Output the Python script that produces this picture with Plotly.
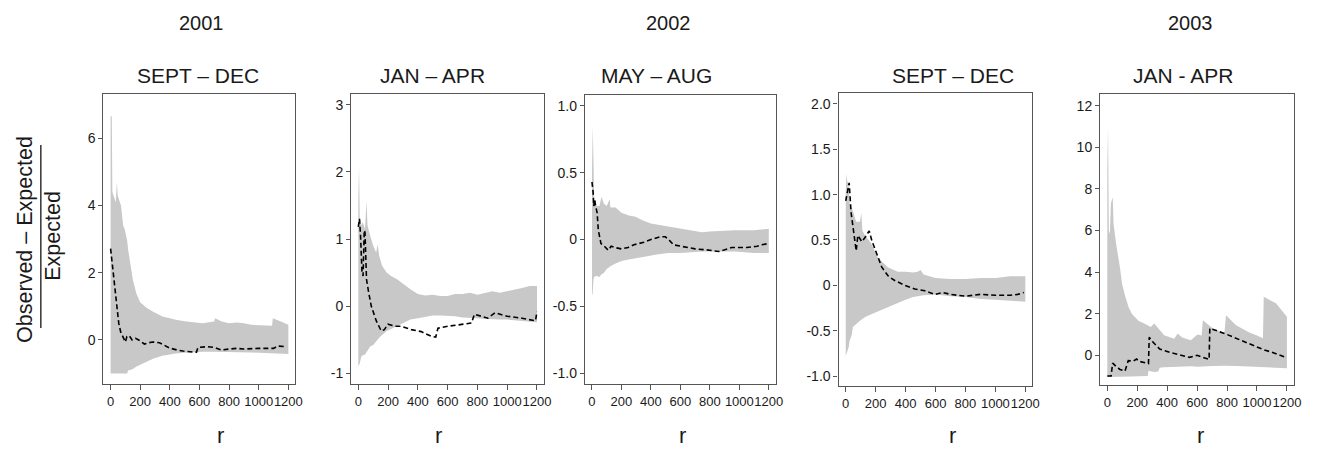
import plotly.graph_objects as go

# The page body has an 8px default margin: the figure is sized to fit the window exactly
OFF = 8
W, H = 1318 - OFF, 459 - OFF

# ---------------- data ----------------
# Panel 1: 2001 SEPT - DEC
p1_band_r = [0, 8, 12, 25, 35, 42, 48, 55, 70, 85, 95, 105, 112, 118, 130, 150, 170, 175, 200, 230, 240, 290, 350,
             400, 440, 500, 550, 600, 620, 700, 705, 750, 800, 850, 900, 950, 1000, 1050, 1090, 1095, 1150, 1200]
p1_upper = [6.66, 6.66, 4.4, 4.2, 4.1, 4.7, 4.3, 4.2, 4.0, 3.4, 3.3, 3.1, 2.95, 2.7, 2.35, 1.8, 1.45, 1.37, 1.12, 1.0,
            0.97, 0.83, 0.7, 0.65, 0.6, 0.56, 0.53, 0.52, 0.5, 0.55, 0.65, 0.55, 0.5, 0.52, 0.5, 0.45, 0.45, 0.43,
            0.42, 0.65, 0.55, 0.45]
p1_lower = [-1.0, -1.0, -1.0, -1.0, -1.0, -1.0, -1.0, -1.0, -1.0, -1.0, -1.0, -1.0, -1.0, -0.9, -0.9, -0.86, -0.8,
            -0.79, -0.74, -0.68, -0.66, -0.55, -0.47, -0.42, -0.4, -0.38, -0.36, -0.35, -0.35, -0.35, -0.35, -0.35,
            -0.35, -0.36, -0.36, -0.37, -0.38, -0.39, -0.4, -0.4, -0.41, -0.42]
p1_line_r = [0, 10, 25, 40, 45, 55, 68, 90, 100, 110, 126, 145, 168, 190, 228, 260, 284, 330, 398, 450, 488, 555,
             580, 590, 650, 700, 750, 800, 850, 900, 950, 1000, 1050, 1100, 1130, 1180]
p1_line = [2.72, 2.3, 1.77, 0.99, 0.78, 0.5, 0.24, 0.03, -0.06, 0.1, 0.13, 0.0, 0.05, 0.0, -0.12, -0.08, -0.06,
           -0.08, -0.24, -0.3, -0.33, -0.36, -0.36, -0.22, -0.2, -0.22, -0.3, -0.27, -0.25, -0.27, -0.25, -0.25,
           -0.25, -0.25, -0.18, -0.2]

# Panel 2: 2002 JAN - APR
p2_band_r = [0, 5, 10, 20, 30, 45, 55, 62, 80, 100, 120, 130, 140, 160, 190, 220, 260, 300, 350, 400, 450, 500,
             550, 600, 650, 700, 750, 800, 850, 900, 950, 1000, 1050, 1100, 1150, 1200]
p2_upper = [1.6, 2.08, 1.3, 1.2, 1.25, 1.15, 1.57, 1.2, 1.05, 0.9, 0.8, 0.92, 0.75, 0.6, 0.5, 0.45, 0.4, 0.33,
            0.25, 0.18, 0.16, 0.17, 0.15, 0.15, 0.18, 0.18, 0.2, 0.17, 0.2, 0.22, 0.2, 0.22, 0.25, 0.27, 0.3, 0.3]
p2_lower = [-0.9, -0.88, -0.85, -0.75, -0.73, -0.72, -0.68, -0.65, -0.6, -0.58, -0.52, -0.5, -0.47, -0.43, -0.37,
            -0.34, -0.3, -0.25, -0.2, -0.18, -0.16, -0.14, -0.14, -0.14, -0.15, -0.17, -0.17, -0.18, -0.19, -0.2,
            -0.2, -0.2, -0.21, -0.22, -0.23, -0.24]
p2_line_r = [0, 8, 15, 25, 32, 40, 45, 55, 70, 87, 121, 154, 175, 199, 250, 289, 356, 423, 490, 520, 535, 600,
             671, 760, 780, 830, 870, 918, 1000, 1100, 1190, 1200]
p2_line = [1.18, 1.3, 1.05, 0.5, 0.45, 1.13, 1.1, 0.4, 0.2, 0.0, -0.22, -0.37, -0.35, -0.27, -0.3, -0.3, -0.35,
           -0.38, -0.45, -0.46, -0.33, -0.3, -0.28, -0.25, -0.12, -0.15, -0.18, -0.1, -0.15, -0.18, -0.22, -0.08]

# Panel 3: 2002 MAY - AUG
p3_band_r = [0, 5, 10, 15, 30, 50, 65, 80, 100, 120, 125, 160, 200, 250, 295, 350, 400, 450, 520, 600, 745, 800,
             900, 970, 1100, 1200]
p3_upper = [0.5, 0.85, 0.6, 0.29, 0.25, 0.25, 0.32, 0.27, 0.25, 0.3, 0.24, 0.24, 0.2, 0.18, 0.17, 0.14, 0.12,
            0.11, 0.1, 0.08, 0.055, 0.06, 0.065, 0.07, 0.07, 0.08]
p3_lower = [-0.42, -0.4, -0.3, -0.28, -0.27, -0.28, -0.26, -0.25, -0.22, -0.2, -0.2, -0.18, -0.16, -0.15, -0.14,
            -0.13, -0.12, -0.11, -0.1, -0.1, -0.09, -0.09, -0.09, -0.09, -0.1, -0.1]
p3_line_r = [0, 8, 12, 18, 25, 35, 43, 61, 84, 110, 130, 155, 200, 245, 284, 352, 400, 464, 498, 520, 554, 600,
             700, 800, 860, 950, 1050, 1120, 1150, 1200]
p3_line = [0.43, 0.35, 0.25, 0.3, 0.25, 0.2, 0.07, -0.03, -0.05, -0.08, -0.05, -0.06, -0.07, -0.06, -0.04, -0.02,
           0.0, 0.02, 0.02, 0.0, -0.04, -0.05, -0.07, -0.08, -0.09, -0.06, -0.06, -0.05, -0.04, -0.03]

# Panel 4: 2002 SEPT - DEC
p4_band_r = [0, 4, 10, 20, 26, 40, 48, 60, 70, 95, 104, 112, 130, 170, 214, 250, 281, 348, 400, 450, 480, 500, 520,
             600, 700, 800, 900, 1000, 1100, 1200]
p4_upper = [1.0, 1.23, 1.15, 1.1, 0.9, 0.85, 0.82, 0.75, 0.7, 0.7, 0.8, 0.6, 0.55, 0.46, 0.31, 0.25, 0.2, 0.15,
            0.15, 0.14, 0.15, 0.17, 0.12, 0.08, 0.07, 0.07, 0.08, 0.08, 0.1, 0.1]
p4_lower = [-0.78, -0.76, -0.72, -0.68, -0.61, -0.55, -0.46, -0.44, -0.43, -0.39, -0.38, -0.37, -0.35, -0.32,
            -0.29, -0.26, -0.24, -0.19, -0.16, -0.13, -0.12, -0.11, -0.11, -0.1, -0.12, -0.13, -0.15, -0.16, -0.17,
            -0.18]
p4_line_r = [0, 12, 23, 36, 52, 63, 70, 81, 92, 108, 130, 157, 175, 208, 241, 285, 330, 396, 462, 529, 596, 650,
             700, 800, 900, 1000, 1100, 1150, 1190]
p4_line = [0.93, 1.04, 1.13, 0.8, 0.6, 0.49, 0.38, 0.55, 0.52, 0.48, 0.53, 0.6, 0.49, 0.35, 0.2, 0.1, 0.05, 0.0,
           -0.04, -0.06, -0.1, -0.08, -0.1, -0.12, -0.1, -0.11, -0.11, -0.1, -0.08]

# Panel 5: 2003 JAN - APR
p5_band_r = [0, 5, 10, 17, 24, 36, 42, 50, 60, 85, 99, 121, 143, 165, 210, 254, 270, 275, 290, 313, 340, 350, 380,
             447, 470, 500, 558, 602, 630, 638, 704, 782, 793, 860, 949, 1000, 1040, 1045, 1127, 1200]
p5_upper = [9.0, 11.05, 6.0, 5.83, 7.3, 7.6, 6.3, 5.8, 5.3, 4.2, 3.42, 2.8, 2.3, 1.98, 1.65, 1.5, 1.45, 1.42, 1.36,
            1.53, 1.3, 1.2, 0.96, 0.8, 1.05, 0.85, 0.72, 1.0, 0.95, 1.69, 1.3, 1.05, 1.93, 1.45, 1.1, 0.95, 0.82,
            2.81, 2.5, 1.85]
p5_lower = [-1.05, -1.05, -1.05, -1.05, -1.05, -1.03, -1.03, -1.03, -1.03, -1.02, -1.02, -1.02, -1.02, -1.02, -1.01,
            -1.0, -1.0, -0.75, -0.78, -0.8, -0.78, -0.6, -0.58, -0.55, -0.54, -0.52, -0.53, -0.55, -0.55, -0.54,
            -0.52, -0.5, -0.5, -0.52, -0.54, -0.55, -0.57, -0.58, -0.6, -0.63]
p5_line_r = [0, 25, 30, 36, 60, 85, 118, 140, 173, 195, 217, 262, 275, 280, 306, 350, 417, 505, 549, 600, 650, 680,
             685, 750, 800, 900, 1000, 1050, 1100, 1150, 1200]
p5_line = [-1.0, -1.0, -0.7, -0.38, -0.55, -0.68, -0.76, -0.26, -0.28, -0.18, -0.3, -0.38, -0.4, 0.87, 0.63, 0.3,
           0.14, -0.02, -0.1, 0.0, -0.12, -0.2, 1.3, 1.15, 1.0, 0.7, 0.4, 0.25, 0.15, 0.0, -0.12]

years = ["2001", "2002", "2003"]
periods = ["SEPT – DEC", "JAN – APR", "MAY – AUG", "SEPT – DEC", "JAN - APR"]
x_ticks = [0, 200, 400, 600, 800, 1000, 1200]
y_tickvals = [
    [0, 2, 4, 6],
    [-1, 0, 1, 2, 3],
    [-1.0, -0.5, 0, 0.5, 1.0],
    [-1.0, -0.5, 0, 0.5, 1.0, 1.5, 2.0],
    [0, 2, 4, 6, 8, 10, 12],
]
y_ticktext = [
    ["0", "2", "4", "6"],
    ["-1", "0", "1", "2", "3"],
    ["-1.0", "-0.5", "0", "0.5", "1.0"],
    ["-1.0", "-0.5", "0", "0.5", "1.0", "1.5", "2.0"],
    ["0", "2", "4", "6", "8", "10", "12"],
]
y_ranges = [[-1.31, 7.32], [-1.16, 3.16], [-1.08, 1.08], [-1.11, 2.12], [-1.43, 12.57]]

panels = [
    (p1_band_r, p1_upper, p1_lower, p1_line_r, p1_line),
    (p2_band_r, p2_upper, p2_lower, p2_line_r, p2_line),
    (p3_band_r, p3_upper, p3_lower, p3_line_r, p3_line),
    (p4_band_r, p4_upper, p4_lower, p4_line_r, p4_line),
    (p5_band_r, p5_upper, p5_lower, p5_line_r, p5_line),
]

# frame pixel boxes in window coordinates (left, right, top, bottom)
frames = [(104, 297, 94, 384), (353, 547, 94, 384), (588, 780, 95, 384), (843, 1038, 93, 386), (1106, 1301, 94, 385)]


def px(x):
    return (x - OFF) / W


def py(y):
    return 1 - (y - OFF) / H


FONT = "Liberation Sans, Arial, Helvetica, sans-serif"
BAND = "#c8c8c8"
FRAME = "#555555"
TXT = "#1a1a1a"

fig = go.Figure()
layout = dict(
    width=W, height=H, margin=dict(l=0, r=0, t=0, b=0), autosize=False,
    paper_bgcolor="white", plot_bgcolor="white", showlegend=False,
    font=dict(family=FONT, color=TXT),
)

for i, (br, up, lo, lr, lv) in enumerate(panels):
    k = "" if i == 0 else str(i + 1)
    xa, ya = "x" + k, "y" + k
    fig.add_trace(go.Scatter(x=br, y=lo, mode="lines", line=dict(width=0, color=BAND),
                             xaxis=xa, yaxis=ya, hoverinfo="skip"))
    fig.add_trace(go.Scatter(x=br, y=up, mode="lines", line=dict(width=0, color=BAND), fill="tonexty",
                             fillcolor=BAND, xaxis=xa, yaxis=ya, hoverinfo="skip"))
    fig.add_trace(go.Scatter(x=lr, y=lv, mode="lines", line=dict(color="black", width=1.6, dash="5px,3px"),
                             xaxis=xa, yaxis=ya))
    l, r, t, b = frames[i]
    layout["xaxis" + k] = dict(
        domain=[px(l), px(r)], anchor=ya, range=[-48, 1248], tickvals=x_ticks,
        ticktext=[str(v) for v in x_ticks], ticks="outside", ticklen=5, tickcolor=FRAME, tickangle=0,
        showline=True, mirror=True, linecolor=FRAME, linewidth=1.3, showgrid=False, zeroline=False,
        tickfont=dict(size=13, family=FONT, color=TXT), fixedrange=True,
    )
    layout["yaxis" + k] = dict(
        domain=[py(b), py(t)], anchor=xa, range=y_ranges[i], tickvals=y_tickvals[i],
        ticktext=y_ticktext[i], ticks="outside", ticklen=4, tickcolor=FRAME,
        showline=True, mirror=True, linecolor=FRAME, linewidth=1.3, showgrid=False, zeroline=False,
        tickfont=dict(size=14, family=FONT, color=TXT), fixedrange=True,
    )

annotations = []


def ann(text, x, y, size, angle=0):
    annotations.append(dict(text=text, x=px(x), y=py(y), xref="paper", yref="paper", showarrow=False,
                            font=dict(size=size, family=FONT, color=TXT), textangle=angle,
                            xanchor="center", yanchor="middle"))


year_x = [203, 672, 1197]
for yt, xx in zip(years, year_x):
    ann(yt, xx, 23, 20)
period_x = [199, 435, 660, 958, 1189]
for pt, xx in zip(periods, period_x):
    ann(pt, xx, 76, 21)
r_x = [222, 441, 686, 958, 1207]
for xx in r_x:
    ann("r", xx, 435, 22)
ann("Observed – Expected", 25, 239, 21.5, -90)
ann("Expected", 53, 236, 21.5, -90)

layout["annotations"] = annotations
layout["shapes"] = [dict(type="line", xref="paper", yref="paper", x0=px(41), x1=px(41),
                         y0=py(145), y1=py(328), line=dict(color="#333333", width=1.5))]
fig.update_layout(**layout)
fig.write_html("out.html")
